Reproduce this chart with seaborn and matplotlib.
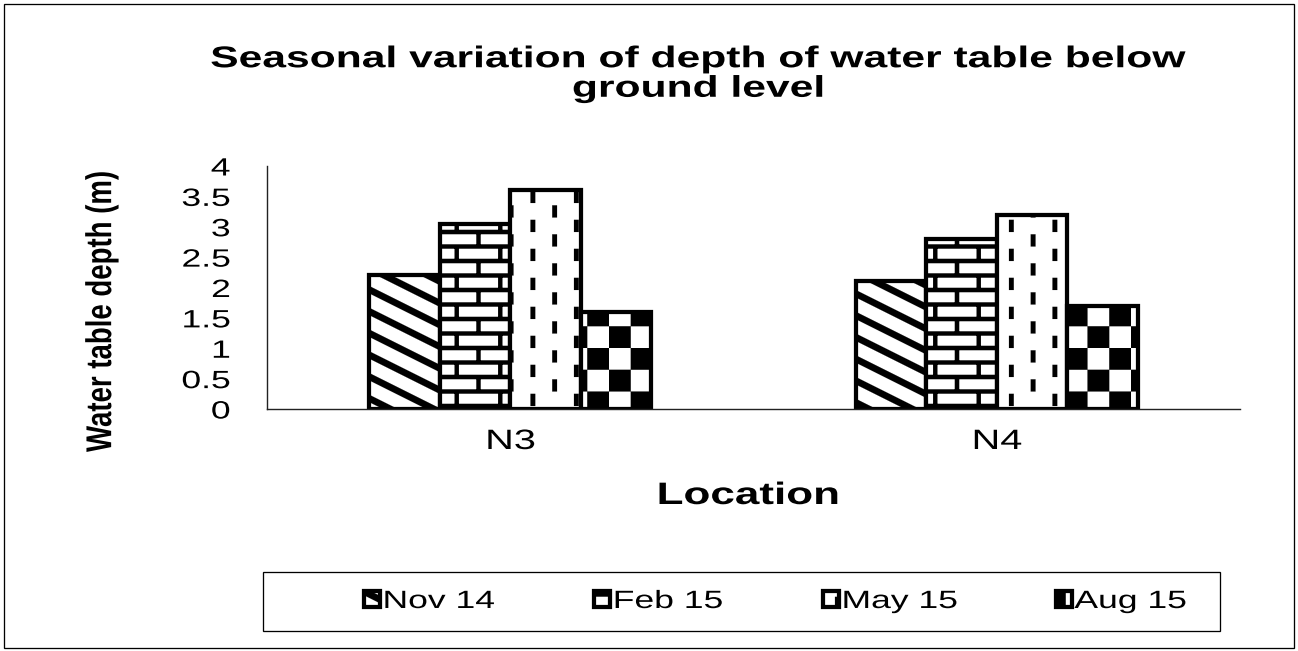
import numpy as np
import pandas as pd
import matplotlib
matplotlib.use("Agg")
import matplotlib.pyplot as plt
import matplotlib.hatch as mhatch
from matplotlib.path import Path
from matplotlib.patches import Rectangle
from matplotlib.patheffects import AbstractPathEffect
from matplotlib.transforms import Affine2D
from matplotlib.ticker import FixedLocator
import seaborn as sns

# ---------------- data ----------------
locations = ["N3", "N4"]
seasons = ["Nov 14", "Feb 15", "May 15", "Aug 15"]
nov14 = [2.2, 2.1]
feb15 = [3.05, 2.8]
may15 = [3.6, 3.2]
aug15 = [1.6, 1.7]
yticks = [0, 0.5, 1, 1.5, 2, 2.5, 3, 3.5, 4]
ytick_labels = ["0", "0.5", "1", "1.5", "2", "2.5", "3", "3.5", "4"]
title_text = "Seasonal variation of depth of water table below\nground level"
xlabel_text = "Location"
ylabel_text = "Water table depth (m)"

W, H, DPI = 1298, 651, 87


# ---------------- custom fill patterns (hatches) ----------------
class _ShapeHatch(mhatch.HatchPatternBase):
    char = None

    def __init__(self, hatch, density):
        self.polys = self.build() if (hatch is not None and self.char in hatch) else []
        self.num_vertices = 5 * len(self.polys)

    def build(self):
        return []

    def set_vertices_and_codes(self, vertices, codes):
        k = 0
        for poly in self.polys:
            vertices[k:k + 5] = poly
            codes[k] = Path.MOVETO
            codes[k + 1:k + 4] = Path.LINETO
            codes[k + 4] = Path.CLOSEPOLY
            k += 5


def _rect(x0, y0, x1, y1):
    return [(x0, y0), (x1, y0), (x1, y1), (x0, y1), (x0, y0)]


class StripeHatch(_ShapeHatch):
    char = "\\"

    def build(self):
        t = 0.085
        polys = []
        for c in np.arange(-0.25, 1.76, 0.25):
            polys.append([(-0.05, c + 0.025), (1.05, c - 0.525), (1.05, c - 0.525 + t),
                          (-0.05, c + 0.025 + t), (-0.05, c + 0.025)])
        return polys


class BrickHatch(_ShapeHatch):
    char = "-"

    def build(self):
        rows, m = 6, 0.05
        h = 1.0 / rows
        polys = []
        for r in range(rows + 1):
            polys.append(_rect(-0.01, r * h - m / 2, 1.01, r * h + m / 2))
        for r in range(rows):
            xs = [0.25, 0.75] if r % 2 == 0 else [0.0, 0.5, 1.0]
            for x in xs:
                polys.append(_rect(x - m / 2, r * h, x + m / 2, (r + 1) * h))
        return polys


class DashHatch(_ShapeHatch):
    char = "|"

    def build(self):
        w, L, per = 0.055, 0.14, 1.0 / 3
        polys = []
        for i in range(4):
            x = 0.125 + 0.25 * i
            off = per / 2 if i % 2 else 0.0
            for k in range(-1, 4):
                y0 = k * per + off
                polys.append(_rect(x - w / 2, y0, x + w / 2, y0 + L))
        return polys


class CheckerHatch(_ShapeHatch):
    char = "+"

    def build(self):
        n = 4
        s = 1.0 / n
        polys = []
        for i in range(n):
            for j in range(n):
                if (i + j) % 2 == 0:
                    polys.append(_rect(i * s, j * s, (i + 1) * s, (j + 1) * s))
        return polys


try:
    mhatch._hatch_types[:] = [StripeHatch, BrickHatch, DashHatch, CheckerHatch]
except Exception:
    pass


# ---------------- horizontal text stretch (the source image is wide) ----------------
class HStretch(AbstractPathEffect):
    def __init__(self, sx, anchor="center"):
        super().__init__()
        self.sx = sx
        self.anchor = anchor

    def draw_path(self, renderer, gc, tpath, affine, rgbFace=None):
        v = tpath.vertices
        if v is None or len(v) == 0:
            return
        p = affine.transform(v)
        if self.anchor == "left":
            cx = p[:, 0].min()
        elif self.anchor == "right":
            cx = p[:, 0].max()
        else:
            cx = 0.5 * (p[:, 0].min() + p[:, 0].max())
        aff = affine + Affine2D().translate(-cx, 0).scale(self.sx, 1.0).translate(cx, 0)
        renderer.draw_path(gc, tpath, aff, rgbFace)


SX = 1.42

sns.set_style("white")
plt.rcParams["font.family"] = ["Liberation Sans", "DejaVu Sans"]
plt.rcParams["hatch.linewidth"] = 0.1
plt.rcParams.update({"text.color": "black", "axes.labelcolor": "black",
                     "xtick.color": "black", "ytick.color": "black"})


def px(v):
    return v * 72.0 / DPI


# ---------------- figure ----------------
fig = plt.figure(figsize=(W / DPI, H / DPI), dpi=DPI)
fig.patch.set_facecolor("white")
ax = fig.add_axes([267 / W, 1 - 409 / H, (1240 - 267) / W, (409 - 166) / H])

values = {"Nov 14": nov14, "Feb 15": feb15, "May 15": may15, "Aug 15": aug15}
rows = [(loc, s, values[s][i]) for i, loc in enumerate(locations) for s in seasons]
df = pd.DataFrame(rows, columns=["Location", "Season", "Depth"])

sns.barplot(data=df, x="Location", y="Depth", hue="Season", order=locations,
            hue_order=seasons, palette=["white"] * 4, saturation=1,
            edgecolor="black", linewidth=3.5, width=0.58, ax=ax, legend=False)

hatches = ["\\", "-", "|", "+"]
for cont, hch in zip(ax.containers, hatches):
    for p in cont:
        p.set_hatch(hch)
        p.set_edgecolor("black")

ax.set_xlim(-0.5, 1.5)
ax.set_ylim(0, 4)
for s in ["top", "right"]:
    ax.spines[s].set_visible(False)
for s in ["left", "bottom"]:
    ax.spines[s].set_color("#222222")
    ax.spines[s].set_linewidth(px(1.4))

ax.set_yticks(yticks)
ax.set_yticklabels(ytick_labels)
ax.tick_params(axis="y", which="major", direction="out", length=px(12.7), width=px(1.3),
               color="#555555", labelsize=px(25), pad=px(24), labelcolor="black")

ax.set_xticks([0, 1])
ax.set_xticklabels(locations)
ax.tick_params(axis="x", which="major", length=0, labelsize=px(28), pad=px(20),
               labelcolor="black")
ax.xaxis.set_minor_locator(FixedLocator([-0.5, 0.5, 1.5]))
ax.tick_params(axis="x", which="minor", direction="out", length=px(7), width=px(1.3),
               color="#555555")

for t in ax.get_yticklabels():
    t.set_path_effects([HStretch(SX, "right")])
for t in ax.get_xticklabels():
    t.set_path_effects([HStretch(SX, "center")])

xl = ax.set_xlabel(xlabel_text, fontsize=px(31), fontweight="bold", color="black")
xl.set_verticalalignment("center")
ax.xaxis.set_label_coords((748 - 267) / (1240 - 267), (409 - 496) / (409 - 166))
xl.set_path_effects([HStretch(SX, "center")])

yl = ax.set_ylabel(ylabel_text, fontsize=px(27.6), fontweight="bold", color="black")
yl.set_verticalalignment("center")
ax.yaxis.set_label_coords((102 - 267) / (1240 - 267), (409 - 311) / (409 - 166))
yl.set_path_effects([HStretch(1.3, "center")])

tt = fig.text(698 / W, 1 - 74 / H, title_text, ha="center", va="center",
              multialignment="center", fontsize=px(30), fontweight="bold",
              linespacing=1.07, color="black")
tt.set_path_effects([HStretch(SX, "center")])

# legend
leg = fig.legend(handles=list(ax.containers), labels=seasons, ncol=4,
                 loc="center left", bbox_to_anchor=(364 / W, 1 - 601 / H),
                 frameon=False, fontsize=px(25), handlelength=0.64,
                 handleheight=0.64, handletextpad=0.1, columnspacing=5.3,
                 borderpad=0, borderaxespad=0)
for t in leg.get_texts():
    t.set_color("black")
    t.set_path_effects([HStretch(SX, "left")])

# legend frame and outer chart frame
fig.add_artist(Rectangle((263 / W, 1 - 631 / H), (1220 - 263) / W, (631 - 572) / H,
                         transform=fig.transFigure, fill=False, edgecolor="black",
                         linewidth=px(1.3)))
fig.add_artist(Rectangle((4 / W, 1 - 648 / H), (1294 - 4) / W, (648 - 4) / H,
                         transform=fig.transFigure, fill=False, edgecolor="black",
                         linewidth=px(1.3)))

fig.savefig("out.png", dpi=DPI, facecolor="white")
